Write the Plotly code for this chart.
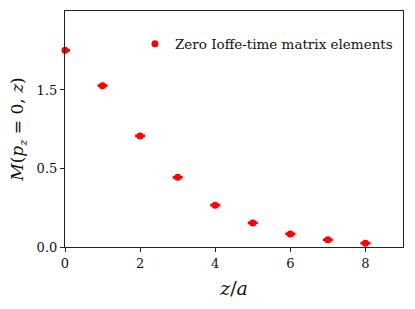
import plotly.graph_objects as go

z_vals = [0, 1, 2, 3, 4, 5, 6, 7, 8]
m_vals = [1.253, 1.027, 0.707, 0.444, 0.266, 0.153, 0.083, 0.046, 0.024]
m_err = [0.004, 0.004, 0.004, 0.004, 0.004, 0.004, 0.004, 0.004, 0.004]
y_tick_vals = [0.0, 0.5, 1.0]
y_tick_text = ["0.0", "0.5", "1.5"]
x_tick_vals = [0, 2, 4, 6, 8]

font_family = "DejaVu Serif, Liberation Serif, serif"

fig = go.Figure()
fig.add_trace(go.Scatter(
    x=z_vals, y=m_vals, mode="markers",
    name="Zero Ioffe-time matrix elements",
    marker=dict(color="#ff0000", size=7),
    error_y=dict(type="data", array=m_err, visible=True, color="#ff0000",
                 thickness=1.5, width=5),
    cliponaxis=False,
))

fig.update_layout(
    width=415, height=309,
    margin=dict(l=65, r=12, t=11, b=62),
    paper_bgcolor="white", plot_bgcolor="white",
    font=dict(family=font_family, color="#111", size=13),
    showlegend=True,
    legend=dict(x=0.985, xanchor="right", y=0.86, yanchor="middle",
                bgcolor="rgba(0,0,0,0)", font=dict(size=13.5, family=font_family)),
    xaxis=dict(range=[0, 9], tickvals=x_tick_vals, ticks="outside", ticklen=4,
               tickcolor="#222", showline=True, linecolor="#222", linewidth=1.2,
               mirror=True, showgrid=False, zeroline=False, automargin=False,
               title=dict(text="<i>z</i>/<i>a</i>", font=dict(size=19, family=font_family),
                          standoff=11)),
    yaxis=dict(range=[0, 1.503], tickvals=y_tick_vals, ticktext=y_tick_text,
               ticks="outside", ticklen=4, tickcolor="#222", showline=True,
               linecolor="#222", linewidth=1.2, mirror=True, showgrid=False,
               zeroline=False, automargin=False,
               title=dict(text="<i>M</i>(<i>p</i><sub><i>z</i></sub> = 0, <i>z</i>)",
                          font=dict(size=17, family=font_family), standoff=8)),
)

fig.write_html("out.html", config={"displayModeBar": False},
               post_script="document.body.style.margin='0';")
